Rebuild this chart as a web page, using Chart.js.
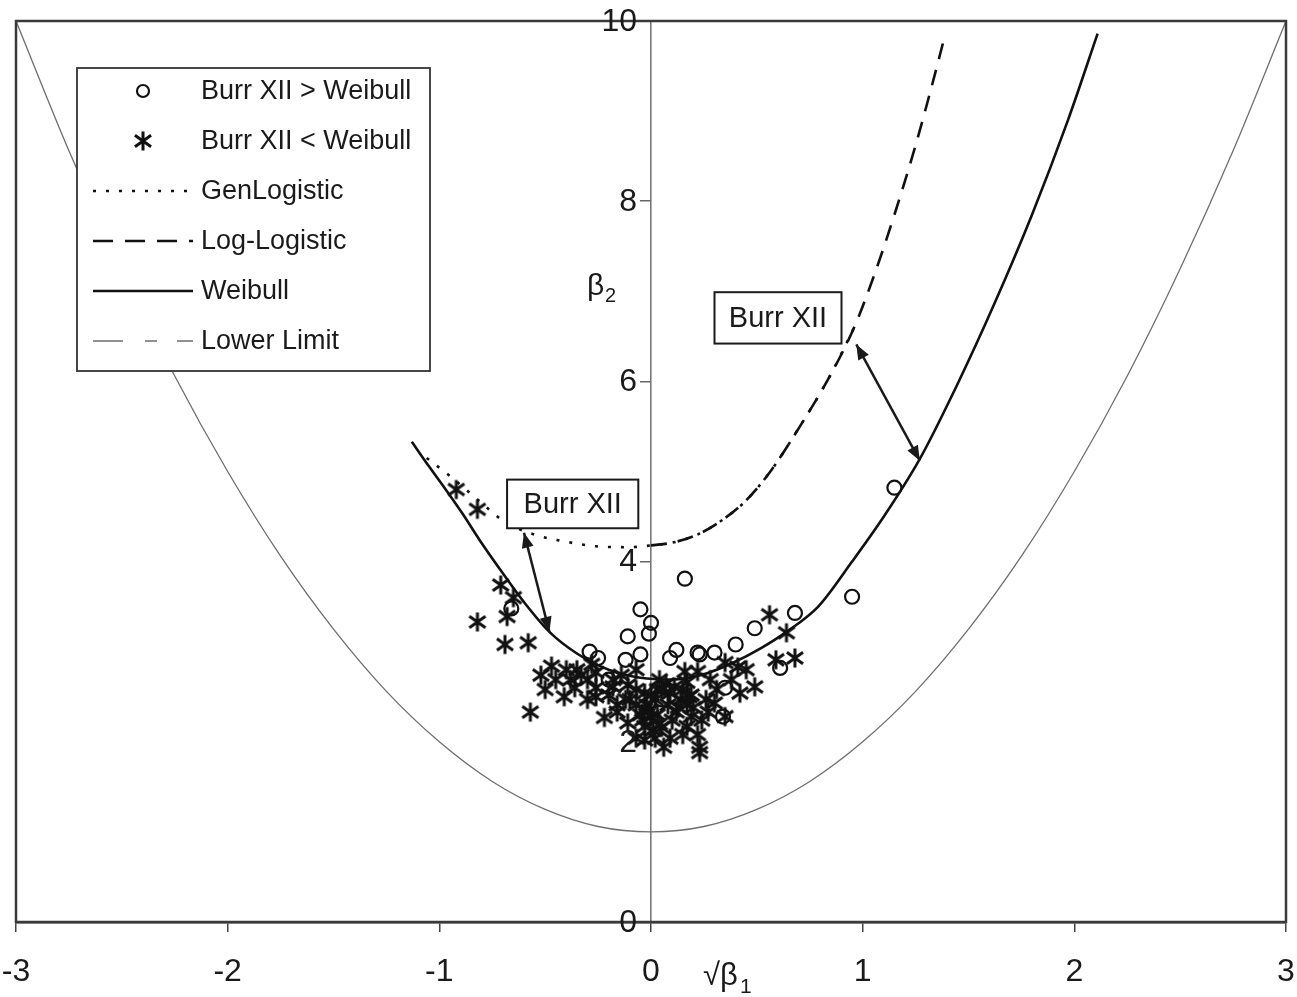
<!DOCTYPE html>
<html>
<head>
<meta charset="utf-8">
<title>Burr XII region vs Weibull</title>
<script src="https://cdn.jsdelivr.net/npm/chart.js@4.4.1/dist/chart.umd.min.js"></script>
<style>
  html, body { margin: 0; padding: 0; background: #fff; }
  #wrap { width: 1297px; height: 997px; }
</style>
</head>
<body>
<div id="wrap"><canvas id="chart" width="1297" height="997"></canvas></div>
<script>
// Values. x = sqrt(beta1) (skewness), y = beta2 (kurtosis)
const xTicks = [-3, -2, -1, 0, 1, 2, 3];
const yTicks = [0, 2, 4, 6, 8, 10];

// Lower limit (thin grey parabola)
const lowerLimitX = [-3, -2.75, -2.5, -2.25, -2, -1.75, -1.5, -1.25, -1, -0.75, -0.5, -0.25, 0,
                     0.25, 0.5, 0.75, 1, 1.25, 1.5, 1.75, 2, 2.25, 2.5, 2.75, 3];
const lowerLimitY = [10, 8.56, 7.25, 6.06, 5, 4.06, 3.25, 2.56, 2, 1.56, 1.25, 1.06, 1,
                     1.06, 1.25, 1.56, 2, 2.56, 3.25, 4.06, 5, 6.06, 7.25, 8.56, 10];

// Weibull (solid)
const weibullX = [-1.13, -1.05, -0.97, -0.89, -0.81, -0.70, -0.60, -0.48, -0.35, -0.20, -0.05,
                  0.10, 0.25, 0.39, 0.52, 0.64, 0.79, 0.95, 1.10, 1.27, 1.45, 1.62, 1.80, 1.97, 2.11];
const weibullY = [5.33, 5.06, 4.80, 4.53, 4.24, 3.87, 3.55, 3.22, 2.98, 2.80, 2.71,
                  2.69, 2.75, 2.88, 3.04, 3.22, 3.50, 4.00, 4.50, 5.14, 5.98, 6.85, 7.85, 8.90, 9.86];

// Generalised logistic (dotted)
const genLogX = [-1.06, -0.95, -0.82, -0.69, -0.55, -0.40, -0.26, -0.10, 0, 0.10, 0.22, 0.33, 0.45, 0.57, 0.69, 0.85, 0.96];
const genLogY = [5.15, 4.95, 4.69, 4.44, 4.30, 4.22, 4.17, 4.16, 4.18, 4.21, 4.30, 4.45, 4.68, 5.02, 5.45, 6.08, 6.60];

// Log-logistic (dashed)
const logLogX = [0, 0.10, 0.22, 0.33, 0.45, 0.57, 0.69, 0.85, 0.96, 1.05, 1.15, 1.25, 1.32, 1.39];
const logLogY = [4.18, 4.21, 4.30, 4.45, 4.68, 5.02, 5.45, 6.08, 6.60, 7.15, 7.85, 8.62, 9.22, 9.85];

// Burr XII > Weibull (circles)
const burrAboveX = [1.15, 0.95, 0.16, -0.05, 0.00, -0.01, -0.11, 0.12, 0.09, -0.05, -0.12, -0.29, -0.25,
                    0.22, 0.23, 0.30, 0.40, 0.49, 0.68, 0.61, -0.66, 0.35, 0.34, -0.20, 0.05];
const burrAboveY = [4.82, 3.61, 3.81, 3.47, 3.32, 3.20, 3.17, 3.02, 2.93, 2.97, 2.91, 3.00, 2.93,
                    2.99, 2.97, 2.99, 3.08, 3.26, 3.43, 2.82, 3.48, 2.60, 2.28, 2.69, 2.47];

// Burr XII < Weibull (asterisks)
const burrBelowX = [-0.92, -0.82, -0.71, -0.65, -0.68, -0.82, -0.69, -0.58, -0.57, -0.52, -0.47, -0.41,
                    -0.35, -0.30, -0.22, -0.26, -0.18, -0.11, -0.11, -0.03, -0.03, -0.03, -0.07, 0.06,
                    0.11, 0.14, 0.17, 0.19, 0.22, 0.23, 0.23, 0.28, 0.30, 0.35, 0.35, 0.41, 0.42, 0.49,
                    0.56, 0.64, 0.59, 0.68, -0.26, -0.40, 0.02, 0.00, 0.17, 0.09, -0.10, -0.02, 0.03,
                    -0.04, 0.19, 0.12, 0.05, -0.07, -0.20, -0.30, -0.36, 0.26, 0.16, 0.04, -0.14, 0.24,
                    -0.45, -0.50, -0.16, 0.09, 0.02,
                    0.01, -0.03, 0.03, 0.08, 0.15, 0.20, 0.27, -0.07, -0.12, -0.18, -0.26, -0.33, -0.38,
                    -0.28, -0.07, 0.15, 0.22, 0.31, 0.38, 0.45, 0.00, 0.10, 0.17, -0.16, 0.05,
                    -0.01, 0.04, 0.13, 0.18, -0.05, 0.07];
const burrBelowY = [4.80, 4.58, 3.74, 3.60, 3.39, 3.33, 3.08, 3.10, 2.33, 2.74, 2.84, 2.50,
                    2.80, 2.69, 2.27, 2.50, 2.61, 2.63, 2.21, 2.54, 2.36, 2.17, 2.80, 1.94,
                    2.61, 2.47, 2.66, 2.28, 2.78, 1.94, 1.88, 2.69, 2.43, 2.28, 2.88, 2.83, 2.54, 2.61,
                    3.41, 3.21, 2.91, 2.93, 2.77, 2.80, 2.47, 2.28, 2.17, 2.54, 2.47, 2.41, 2.58,
                    2.24, 2.52, 2.33, 2.16, 2.41, 2.52, 2.47, 2.60, 2.47, 2.78, 2.69, 2.74, 2.24,
                    2.69, 2.58, 2.41, 2.04, 2.04,
                    2.13, 2.02, 2.30, 2.41, 2.58, 2.38, 2.33, 2.58, 2.47, 2.69, 2.60, 2.74, 2.69,
                    2.86, 2.04, 2.08, 2.08, 2.58, 2.69, 2.80, 2.52, 2.24, 2.41, 2.33, 2.58,
                    2.35, 2.20, 2.38, 2.50, 2.30, 2.64];

const pts = (xs, ys) => xs.map((x, i) => ({ x: x, y: ys[i] }));

// asterisk marker (vertical bar + X)
function makeAsterisk(size, lw) {
  const c = document.createElement('canvas');
  c.width = size; c.height = size;
  const g = c.getContext('2d');
  const m = size / 2, r = size / 2 - 1.5;
  g.strokeStyle = '#111';
  g.lineWidth = lw;
  g.beginPath();
  g.moveTo(m, m - r); g.lineTo(m, m + r);
  g.moveTo(m - r * 0.85, m - r * 0.6); g.lineTo(m + r * 0.85, m + r * 0.6);
  g.moveTo(m - r * 0.85, m + r * 0.6); g.lineTo(m + r * 0.85, m - r * 0.6);
  g.stroke();
  return c;
}
const asterisk = makeAsterisk(22, 3);

const FONT = "'Liberation Sans', Arial, sans-serif";
const INK = '#1a1a1a';

// Frame around the plot area
const framePlugin = {
  id: 'frame',
  afterDatasetsDraw(chart) {
    const { ctx, chartArea: a } = chart;
    ctx.save();
    ctx.strokeStyle = '#3a3a3a';
    ctx.lineWidth = 2.5;
    ctx.strokeRect(a.left, a.top, a.right - a.left, a.bottom - a.top);
    ctx.restore();
  }
};

// "Burr XII" boxes with double-headed arrows, placed in data units
const burrNotes = [
  { box: [-0.68, 4.91, -0.06, 4.37], from: [-0.60, 4.32], to: [-0.48, 3.22] },
  { box: [0.30, 6.99, 0.90, 6.42], from: [0.97, 6.41], to: [1.27, 5.12] }
];

function arrowHead(ctx, x1, y1, x2, y2) {
  const a = Math.atan2(y2 - y1, x2 - x1), len = 15, half = 6;
  ctx.beginPath();
  ctx.moveTo(x2, y2);
  ctx.lineTo(x2 - len * Math.cos(a) + half * Math.sin(a), y2 - len * Math.sin(a) - half * Math.cos(a));
  ctx.lineTo(x2 - len * Math.cos(a) - half * Math.sin(a), y2 - len * Math.sin(a) + half * Math.cos(a));
  ctx.closePath();
  ctx.fill();
}

const notesPlugin = {
  id: 'notes',
  afterDatasetsDraw(chart) {
    const { ctx, scales: { x, y } } = chart;
    ctx.save();
    burrNotes.forEach(n => {
      const l = x.getPixelForValue(n.box[0]), t = y.getPixelForValue(n.box[1]);
      const r = x.getPixelForValue(n.box[2]), b = y.getPixelForValue(n.box[3]);
      ctx.fillStyle = '#fff';
      ctx.fillRect(l, t, r - l, b - t);
      ctx.strokeStyle = INK;
      ctx.lineWidth = 2;
      ctx.strokeRect(l, t, r - l, b - t);
      ctx.fillStyle = INK;
      ctx.font = '29px ' + FONT;
      ctx.textAlign = 'center';
      ctx.textBaseline = 'middle';
      ctx.fillText('Burr XII', (l + r) / 2, (t + b) / 2 + 1);
      const x1 = x.getPixelForValue(n.from[0]), y1 = y.getPixelForValue(n.from[1]);
      const x2 = x.getPixelForValue(n.to[0]), y2 = y.getPixelForValue(n.to[1]);
      ctx.lineWidth = 2.5;
      ctx.beginPath(); ctx.moveTo(x1, y1); ctx.lineTo(x2, y2); ctx.stroke();
      arrowHead(ctx, x1, y1, x2, y2);
      arrowHead(ctx, x2, y2, x1, y1);
    });

    // y tick labels, left of the centred axis (outside the tick marks)
    const x0 = x.getPixelForValue(0);
    ctx.fillStyle = INK;
    ctx.font = '32px ' + FONT;
    ctx.textAlign = 'right';
    ctx.textBaseline = 'middle';
    yTicks.forEach(v => ctx.fillText(String(v), x0 - 14, y.getPixelForValue(v) + 1));

    // axis titles next to the axes
    ctx.textAlign = 'left';
    ctx.textBaseline = 'alphabetic';
    ctx.font = '30px ' + FONT;
    ctx.fillText('\u03B2', x0 - 64, y.getPixelForValue(6.96));
    ctx.font = '20px ' + FONT;
    ctx.fillText('2', x0 - 46, y.getPixelForValue(6.88));
    const base = chart.chartArea.bottom + 63;
    ctx.font = '31px ' + FONT;
    ctx.fillText('\u221A\u03B2', x0 + 52, base);
    ctx.font = '21px ' + FONT;
    ctx.fillText('1', x0 + 89, base + 8);
    ctx.restore();
  }
};

// Legend box drawn inside the plot area
const legendPlugin = {
  id: 'boxLegend',
  afterDraw(chart) {
    const { ctx, chartArea: a } = chart;
    const left = a.left + 61, top = a.top + 47, w = 353, h = 303;
    ctx.save();
    ctx.fillStyle = '#fff';
    ctx.fillRect(left, top, w, h);
    ctx.strokeStyle = '#333';
    ctx.lineWidth = 1.8;
    ctx.strokeRect(left, top, w, h);
    chart.data.datasets.forEach((ds, i) => {
      const cy = top + 23 + i * 50;
      const sx1 = left + 16, sx2 = left + 116, mid = (sx1 + sx2) / 2;
      if (ds.showLine) {
        ctx.strokeStyle = ds.borderColor;
        ctx.lineWidth = ds.borderWidth;
        ctx.setLineDash(ds.legendDash || ds.borderDash || []);
        ctx.beginPath(); ctx.moveTo(sx1, cy); ctx.lineTo(sx2, cy); ctx.stroke();
        ctx.setLineDash([]);
      } else if (ds.pointStyle === 'circle') {
        ctx.strokeStyle = '#111';
        ctx.lineWidth = 2.2;
        ctx.beginPath(); ctx.arc(mid, cy, 6, 0, Math.PI * 2); ctx.stroke();
      } else {
        ctx.drawImage(asterisk, mid - asterisk.width / 2, cy - asterisk.height / 2);
      }
      ctx.fillStyle = INK;
      ctx.font = '27px ' + FONT;
      ctx.textAlign = 'left';
      ctx.textBaseline = 'middle';
      ctx.fillText(ds.label, left + 124, cy + 1);
    });
    ctx.restore();
  }
};

const lineDefaults = { showLine: true, pointRadius: 0, pointHoverRadius: 0, fill: false, cubicInterpolationMode: 'monotone' };

new Chart(document.getElementById('chart'), {
  type: 'scatter',
  data: {
    datasets: [
      { label: 'Burr XII > Weibull', data: pts(burrAboveX, burrAboveY), pointStyle: 'circle',
        pointRadius: 7, borderWidth: 2.2, borderColor: '#111', backgroundColor: 'rgba(0,0,0,0)' },
      { label: 'Burr XII < Weibull', data: pts(burrBelowX, burrBelowY), pointStyle: asterisk,
        pointRadius: 10, borderColor: '#111', backgroundColor: '#111' },
      Object.assign({ label: 'GenLogistic', data: pts(genLogX, genLogY), borderColor: '#111',
        borderWidth: 2.6, borderDash: [3, 10] }, lineDefaults),
      Object.assign({ label: 'Log-Logistic', data: pts(logLogX, logLogY), borderColor: '#111',
        borderWidth: 2.6, borderDash: [16, 11], legendDash: [20, 12] }, lineDefaults),
      Object.assign({ label: 'Weibull', data: pts(weibullX, weibullY), borderColor: '#111',
        borderWidth: 2.6 }, lineDefaults),
      Object.assign({ label: 'Lower Limit', data: pts(lowerLimitX, lowerLimitY), borderColor: '#6e6e6e',
        borderWidth: 1.3, legendDash: [30, 22, 12, 20] }, lineDefaults)
    ]
  },
  options: {
    responsive: false,
    devicePixelRatio: 1,
    animation: false,
    layout: { padding: { left: 16, right: 10, top: 21, bottom: 0 } },
    plugins: { legend: { display: false }, tooltip: { enabled: false } },
    scales: {
      x: {
        type: 'linear', position: 'bottom', min: -3, max: 3,
        afterBuildTicks: s => { s.ticks = xTicks.map(v => ({ value: v })); },
        afterFit: s => { s.height = 75; s.paddingLeft = 0; s.paddingRight = 0; },
        border: { display: true, color: '#333', width: 2.5 },
        grid: { drawOnChartArea: false, drawTicks: true, tickLength: 10, color: '#444', lineWidth: 1.5 },
        ticks: { padding: 21, color: INK, font: { family: FONT, size: 32 } }
      },
      y: {
        type: 'linear', position: { x: 0 }, min: 0, max: 10,
        afterBuildTicks: s => { s.ticks = yTicks.map(v => ({ value: v })); },
        afterFit: s => { s.paddingTop = 0; s.paddingBottom = 0; },
        border: { display: true, color: '#777', width: 1.6 },
        grid: { drawOnChartArea: false, drawTicks: true, tickLength: 10, color: '#666', lineWidth: 1.5 },
        ticks: { display: false }
      }
    }
  },
  plugins: [framePlugin, notesPlugin, legendPlugin]
});
</script>
</body>
</html>
